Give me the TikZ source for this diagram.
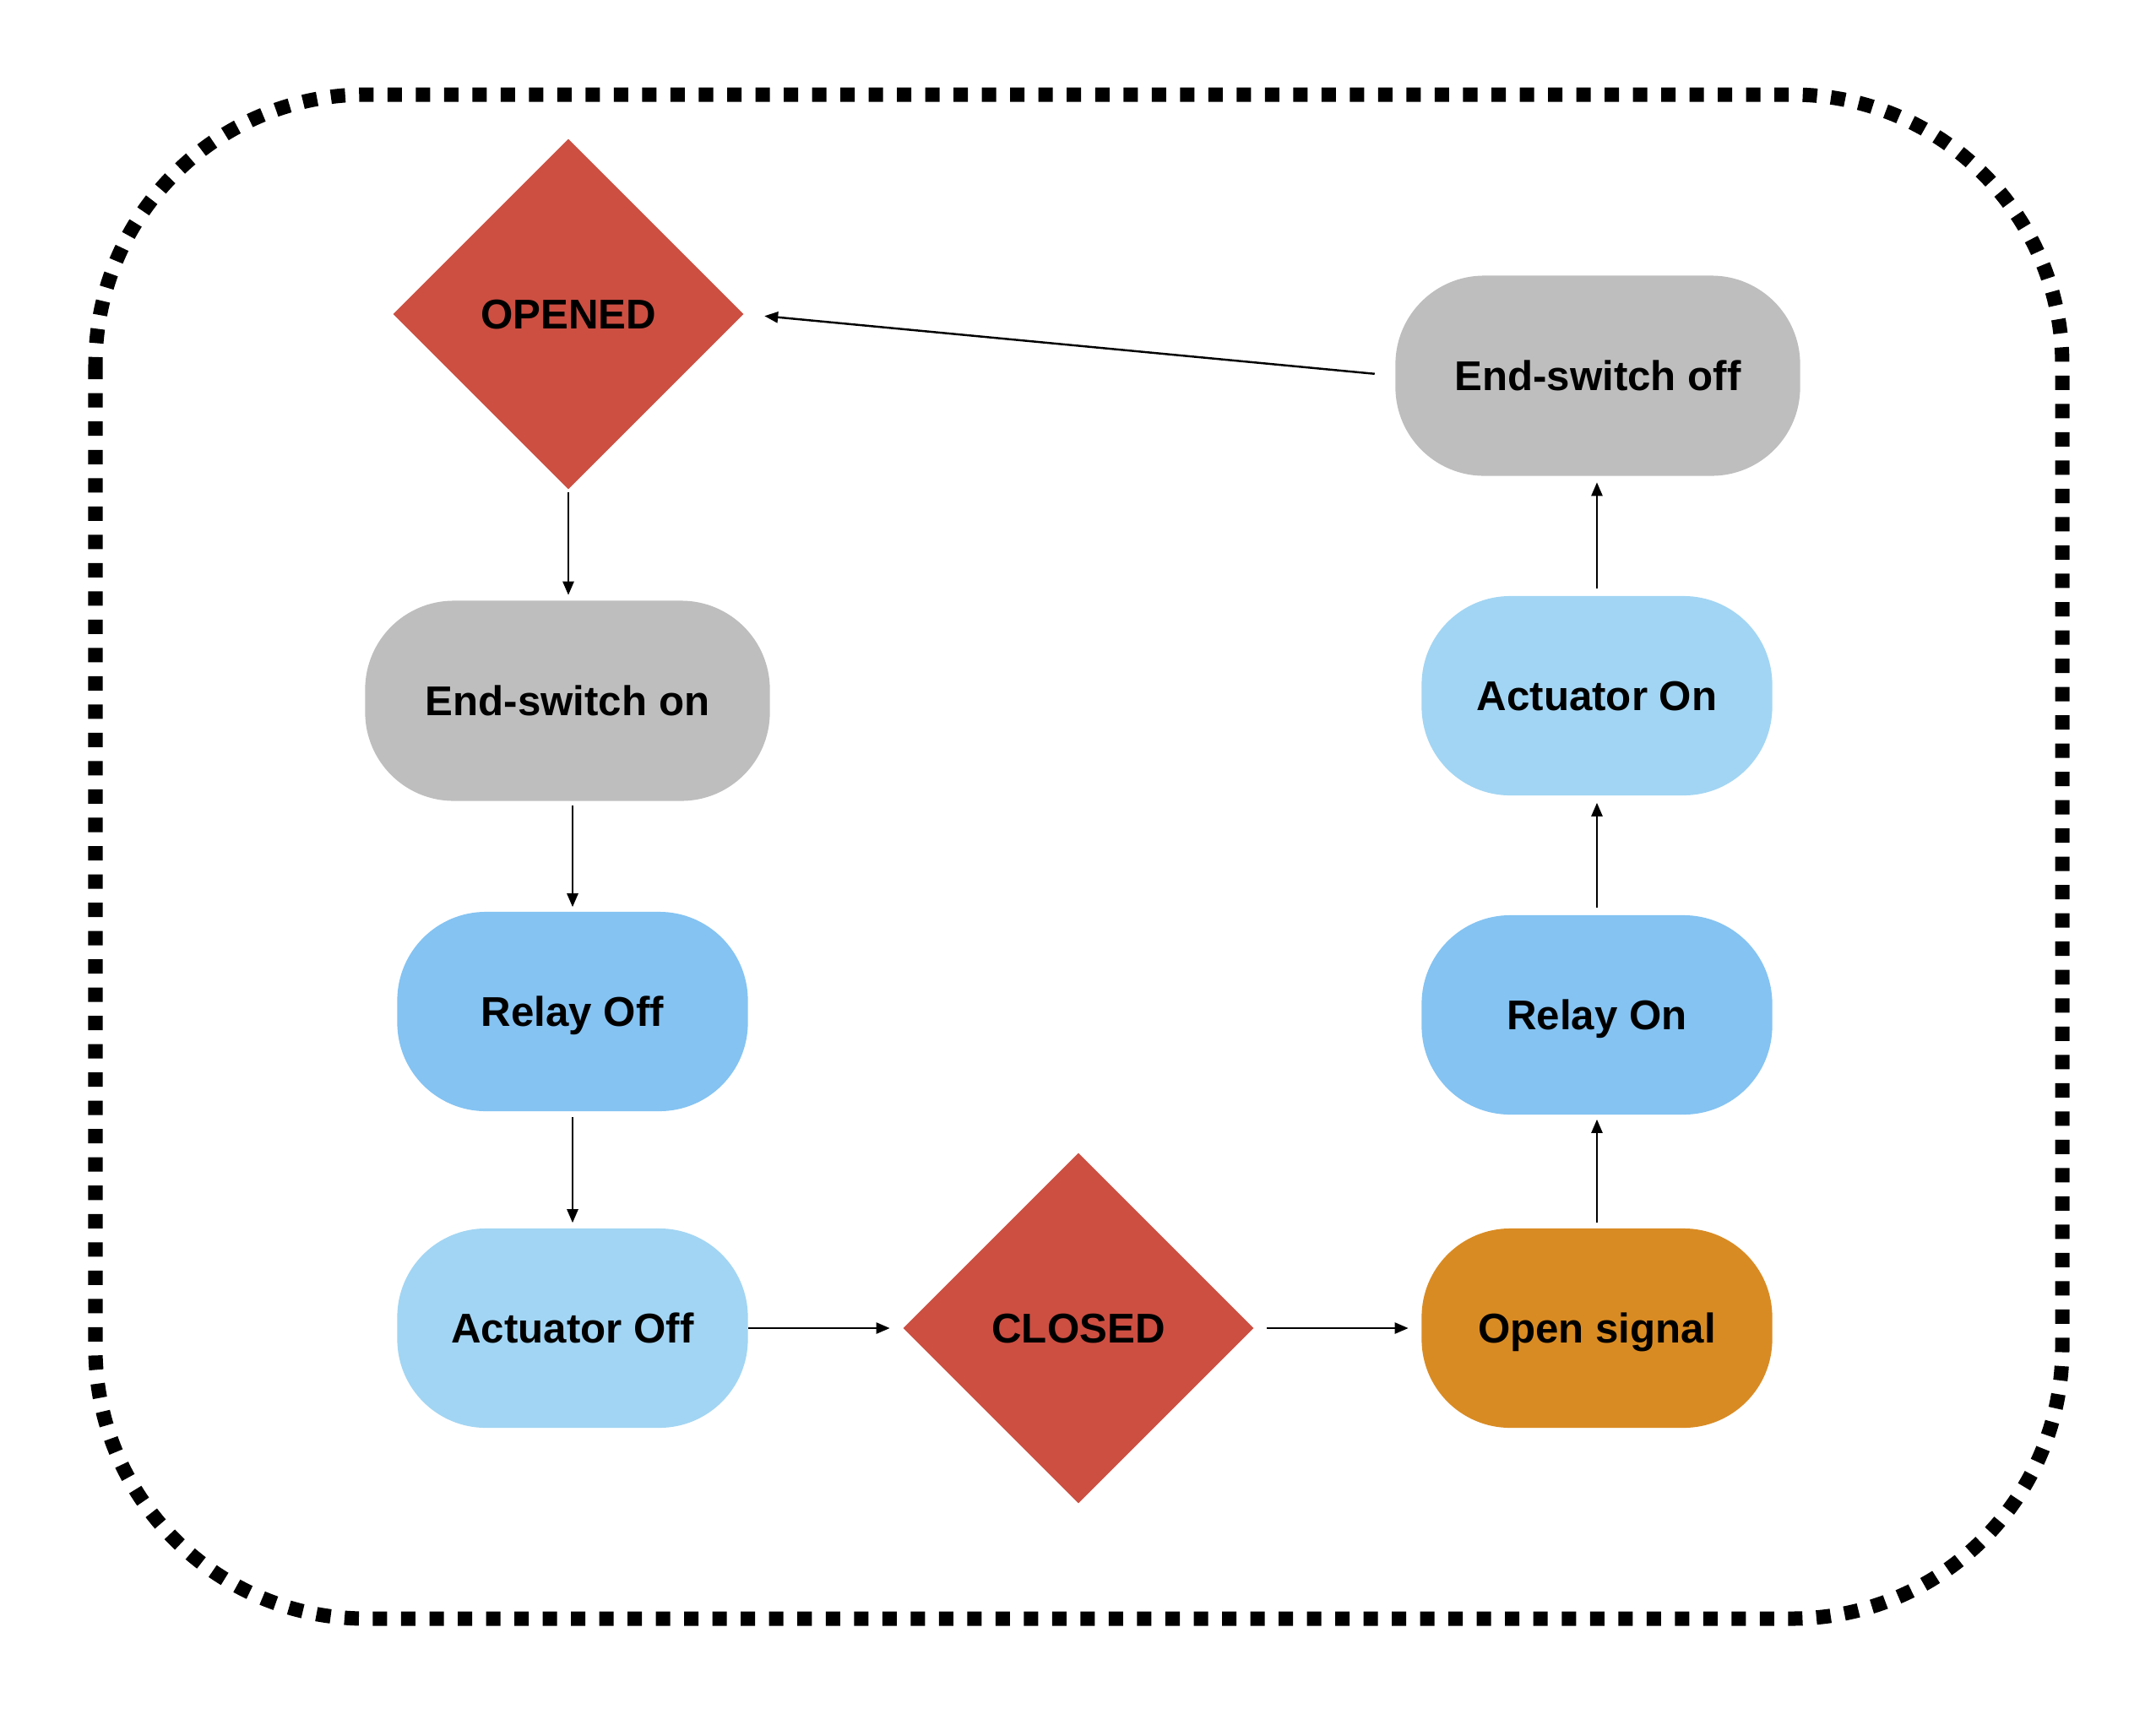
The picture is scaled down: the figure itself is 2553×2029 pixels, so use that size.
\documentclass[tikz,border=0pt]{standalone}
\usepackage{fontspec}
\setmainfont{Liberation Sans}
\usetikzlibrary{shapes.geometric,arrows.meta}

\definecolor{decred}{HTML}{CC4F42}
\definecolor{switchgray}{HTML}{BEBEBE}
\definecolor{relayblue}{HTML}{84C3F2}
\definecolor{actblue}{HTML}{A2D5F3}
\definecolor{signalorange}{HTML}{D98B23}

\tikzset{
  lbl/.style={font=\fontsize{14}{16}\selectfont\bfseries, text=black, inner sep=0pt,
              text height=1.0em, text depth=0pt},
  state/.style={lbl, rectangle, rounded corners=1.05cm, minimum width=4.15cm, minimum height=2.36cm},
  widestate/.style={state, minimum width=4.79cm, minimum height=2.37cm},
  decision/.style={lbl, diamond, fill=decred, minimum width=4.15cm, minimum height=4.15cm},
  arr/.style={line width=0.7pt, -{Triangle[length=0.16cm, width=0.13cm]}},
  frame/.style={line width=0.17cm, dash pattern=on 0.17cm off 0.165cm, rounded corners=3.2cm}
}

\begin{document}
\begin{tikzpicture}[x=0.01cm, y=-0.01cm]
  \useasboundingbox (0,0) rectangle (2553,2029);

  % dotted frame round the whole cycle
  \draw[frame] (113,112) rectangle (2442,1917);

  % left column: opening branch
  \node[decision] (opened) at (673,372) {OPENED};
  \node[widestate, fill=switchgray] (eson) at (672,830) {End-switch on};
  \node[state, fill=relayblue] (relayoff) at (678,1198) {Relay Off};
  \node[state, fill=actblue] (actoff) at (678,1573) {Actuator Off};

  % bottom: closed state
  \node[decision] (closed) at (1277,1573) {CLOSED};

  % right column: closing branch
  \node[state, fill=signalorange] (opensig) at (1891,1573) {Open signal};
  \node[state, fill=relayblue] (relayon) at (1891,1202) {Relay On};
  \node[state, fill=actblue] (acton) at (1891,824) {Actuator On};
  \node[widestate, fill=switchgray] (esoff) at (1892,445) {End-switch off};

  % transitions
  \draw[arr, shorten <=0.03cm, shorten >=0.06cm] (opened.south) -- (opened.south |- eson.north);
  \draw[arr, shorten <=0.05cm, shorten >=0.05cm] (relayoff.north |- eson.south) -- (relayoff.north);
  \draw[arr, shorten <=0.06cm, shorten >=0.06cm] (relayoff.south) -- (actoff.north);
  \draw[arr, shorten <=0.0cm, shorten >=0.15cm] (actoff.east) -- (closed.west);
  \draw[arr, shorten <=0.15cm, shorten >=0.15cm] (closed.east) -- (opensig.west);
  \draw[arr, shorten <=0.06cm, shorten >=0.05cm] (opensig.north) -- (relayon.south);
  \draw[arr, shorten <=0.08cm, shorten >=0.08cm] (relayon.north) -- (acton.south);
  \draw[arr, shorten <=0.08cm, shorten >=0.07cm] (acton.north) -- (acton.north |- esoff.south);
  \draw[arr, shorten <=0.24cm, shorten >=0.24cm] (esoff.west) -- (opened.east);
\end{tikzpicture}
\end{document}
